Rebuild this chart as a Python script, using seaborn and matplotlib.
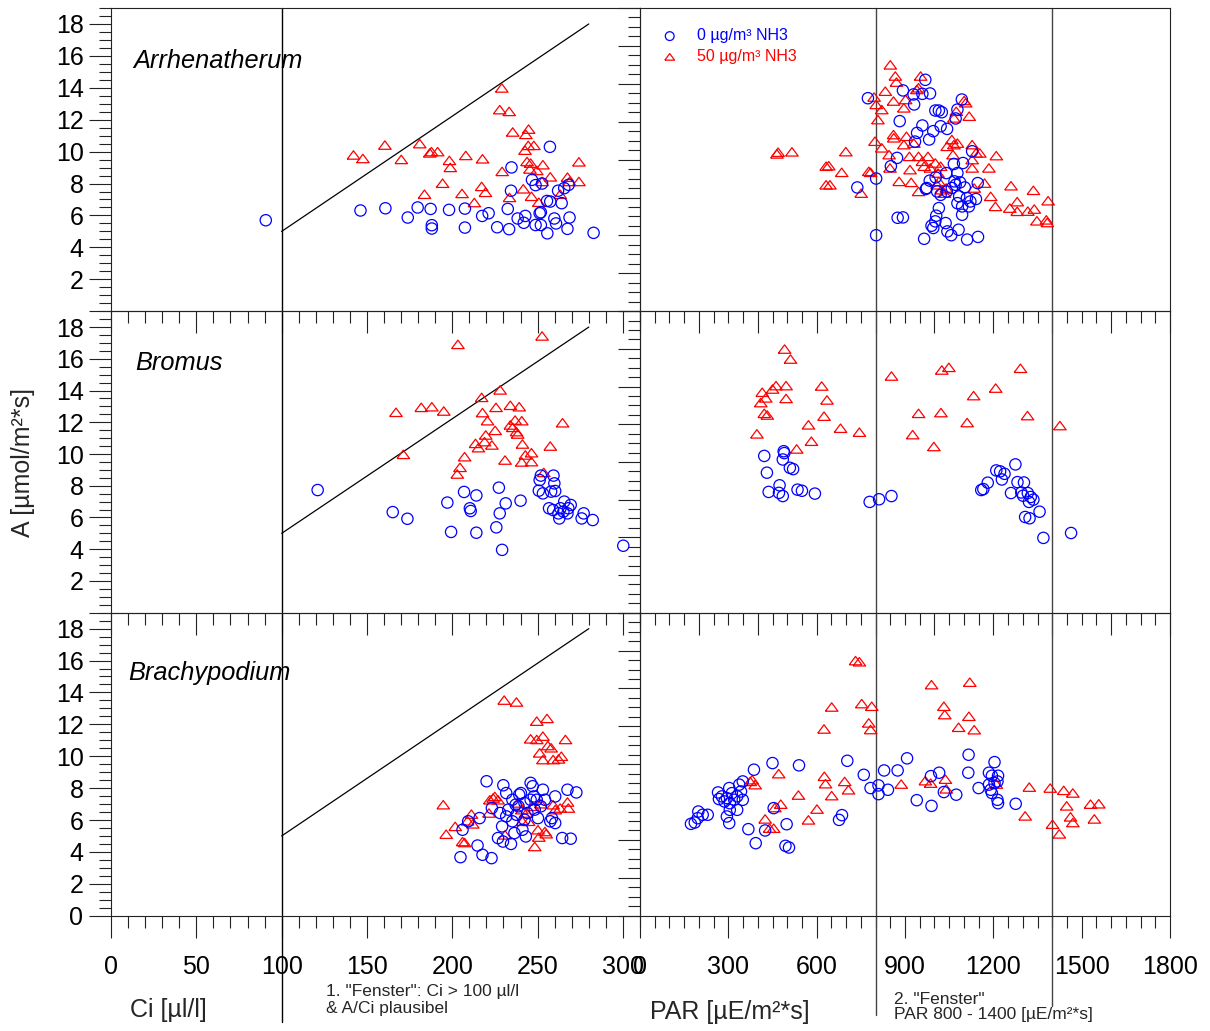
import matplotlib
matplotlib.use("Agg")
import matplotlib.pyplot as plt
from matplotlib.ticker import MultipleLocator, FuncFormatter
from matplotlib.markers import MarkerStyle
import pandas as pd
import seaborn as sns

# ---------------------------------------------------------------- data
SPECIES = ["Arrhenatherum", "Bromus", "Brachypodium"]
SERIES_LABELS = ["0 µg/m³ NH3", "50 µg/m³ NH3"]

# A/Ci plausibility line and measuring windows
PLAUS_CI = [100, 280]
PLAUS_A = [5, 18]
CI_WINDOW = 100
PAR_WINDOW = [800, 1400]

# Arrhenatherum: A vs Ci
ARR_CI_0 = [90.7, 146.2, 160.8, 173.9, 179.7, 187.3, 188.0, 188.0, 198.1, 207.4, 207.4, 217.5, 221.3, 226.3,
            232.5, 233.3, 234.7, 234.4, 238.3, 241.9, 242.8, 246.7, 248.8, 248.8, 251.2, 252.6, 251.9, 255.7,
            257.2, 255.5, 257.4, 259.8, 260.8, 262.0, 264.1, 265.6, 268.2, 268.7, 267.5, 282.8, 251.9]
ARR_ACI_0 = [5.70, 6.31, 6.45, 5.87, 6.50, 6.41, 5.39, 5.18, 6.35, 6.43, 5.24, 5.97, 6.14, 5.26,
             6.41, 5.14, 9.01, 7.55, 5.81, 5.54, 5.97, 8.23, 7.90, 5.40, 6.14, 8.00, 5.40, 4.88,
             10.30, 6.91, 6.87, 5.81, 5.50, 7.55, 6.77, 7.71, 7.92, 5.87, 5.16, 4.91, 6.20]
ARR_CI_50 = [142.1, 147.6, 160.5, 170.1, 180.9, 183.7, 186.8, 187.8, 191.4, 194.3, 198.3, 198.8, 205.7, 207.9,
             212.9, 217.2, 217.7, 219.4, 227.8, 229.0, 229.2, 233.3, 233.5, 235.4, 241.6, 243.1, 242.6, 243.8,
             244.7, 244.5, 245.9, 245.5, 246.4, 247.8, 249.5, 250.7, 253.1, 252.6, 257.4, 263.2, 267.5, 268.7,
             274.2, 274.2]
ARR_ACI_50 = [9.79, 9.57, 10.41, 9.51, 10.50, 7.33, 9.92, 10.00, 10.00, 8.02, 9.45, 9.01, 7.38, 9.76,
              6.81, 7.82, 9.55, 7.45, 12.63, 13.99, 8.76, 12.52, 7.13, 11.23, 7.67, 11.08, 10.09, 9.38,
              11.41, 10.39, 9.28, 8.91, 7.20, 10.39, 8.82, 6.83, 9.18, 8.13, 8.42, 7.33, 8.40, 8.13,
              8.13, 9.36]

# Arrhenatherum: A vs PAR
ARR_PAR_0 = [774, 802, 802, 738, 873, 852, 882, 875, 893, 893, 931, 929, 959, 969, 985, 959, 941, 982, 934,
             1003, 1015, 1025, 1021, 1043, 996, 1072, 1093, 1078, 1128, 1097, 1066, 1078, 1040, 1004, 984,
             971, 1009, 1021, 1042, 1059, 1072, 1087, 1103, 1084, 1110, 1122, 1141, 1147, 1078, 1094, 1117,
             1015, 1006, 1003, 990, 996, 1038, 1044, 1057, 1082, 1094, 965, 1111, 1148, 974, 1068]
ARR_APAR_0 = [11.24, 7.00, 4.01, 6.53, 8.09, 7.65, 10.03, 4.93, 4.95, 11.65, 10.91, 11.44, 11.47, 12.21,
              11.49, 9.80, 9.41, 9.06, 8.95, 10.59, 10.59, 10.50, 9.76, 9.62, 9.50, 10.17, 11.17, 10.64,
              8.44, 7.82, 7.77, 7.29, 7.29, 7.06, 6.89, 6.45, 6.32, 6.14, 6.32, 6.50, 6.67, 6.80, 6.53,
              6.06, 5.97, 5.79, 5.92, 6.76, 5.70, 5.53, 5.53, 5.44, 5.04, 4.74, 4.51, 4.39, 4.65, 4.21,
              4.01, 4.30, 5.09, 3.82, 3.78, 3.92, 6.50, 6.85]
ARR_PAR_50 = [465, 469, 516, 632, 641, 632, 645, 685, 699, 751, 777, 783, 798, 795, 802, 808, 821, 833, 850,
              861, 867, 871, 821, 846, 849, 861, 862, 880, 896, 902, 905, 896, 915, 917, 921, 930, 940, 946,
              953, 946, 946, 959, 965, 978, 986, 1003, 1012, 1021, 1015, 1009, 1024, 1040, 1034, 1043, 1059,
              1066, 1078, 1063, 1066, 1074, 1101, 1106, 1118, 1128, 1141, 1154, 1128, 1135, 1170, 1185, 1191,
              1207, 1210, 1260, 1256, 1281, 1281, 1317, 1336, 1339, 1348, 1380, 1383, 1386, 1128]
ARR_APAR_50 = [8.30, 8.39, 8.41, 7.65, 7.68, 6.67, 6.67, 7.33, 8.42, 6.23, 7.38, 7.33, 8.97, 11.30, 10.91,
               10.11, 10.64, 11.61, 13.00, 11.09, 12.41, 12.09, 8.62, 8.26, 7.56, 9.32, 9.15, 6.85, 10.73,
               11.17, 9.23, 8.79, 8.17, 7.47, 6.80, 8.87, 11.70, 11.79, 12.41, 8.17, 6.32, 7.91, 7.65, 8.17,
               7.56, 7.82, 7.29, 7.65, 6.85, 6.67, 6.41, 6.50, 6.23, 8.70, 9.06, 8.79, 8.87, 8.26, 10.20,
               10.55, 11.12, 11.00, 10.29, 8.79, 8.35, 8.35, 7.56, 6.50, 6.76, 7.56, 6.06, 5.53, 8.21, 6.62,
               5.44, 5.78, 5.27, 5.28, 6.38, 5.39, 4.77, 4.82, 4.68, 5.83, 8.00]

# Bromus: A vs Ci
BRO_CI_0 = [121.1, 165.1, 173.7, 197.1, 199.3, 206.9, 210.3, 210.8, 214.1, 214.1, 225.8, 227.3, 227.8, 229.2,
            231.3, 240.0, 250.7, 251.2, 251.9, 253.1, 257.9, 259.3, 259.8, 256.7, 260.3, 259.1, 262.2, 263.4,
            265.1, 265.6, 267.5, 269.4, 268.0, 277.0, 275.8, 282.3, 300.2, 262.7]
BRO_ACI_0 = [7.73, 6.34, 5.92, 6.94, 5.09, 7.61, 6.58, 6.41, 7.39, 5.04, 5.38, 7.88, 6.26, 3.96,
             6.89, 7.06, 7.69, 8.36, 8.64, 7.52, 7.63, 8.64, 8.15, 6.58, 7.67, 6.47, 6.26, 6.58,
             6.37, 7.00, 6.26, 6.79, 6.58, 6.26, 5.94, 5.84, 4.22, 5.94]
BRO_CI_50 = [167.0, 171.3, 181.8, 188.0, 195.0, 203.3, 202.9, 204.5, 207.2, 213.6, 215.3, 217.2, 217.7, 218.9,
             219.6, 220.6, 223.2, 225.1, 225.6, 228.0, 230.9, 234.0, 234.0, 235.4, 237.6, 238.3, 236.8, 239.2,
             240.7, 241.1, 240.7, 242.8, 246.4, 246.4, 252.6, 253.6, 257.4, 264.6]
BRO_ACI_50 = [12.63, 9.98, 12.94, 12.98, 12.71, 16.91, 8.74, 9.16, 9.83, 10.67, 10.40, 13.57, 12.61, 10.78,
              11.20, 12.10, 10.57, 11.49, 12.94, 14.04, 9.62, 13.07, 11.83, 11.68, 11.41, 11.26, 12.14, 12.98,
              12.10, 10.63, 9.50, 9.94, 10.08, 9.52, 17.44, 8.84, 10.50, 11.97]

# Bromus: A vs PAR
BRO_PAR_0 = [422, 431, 437, 472, 474, 485, 488, 490, 485, 509, 520, 535, 550, 594, 780, 812, 854, 1159, 1166,
             1181, 1210, 1223, 1238, 1229, 1275, 1282, 1304, 1260, 1295, 1317, 1301, 1327, 1336, 1321, 1357,
             1308, 1323, 1370, 1464]
BRO_APAR_0 = [8.32, 7.43, 6.41, 6.36, 6.76, 6.19, 8.57, 8.47, 8.13, 7.69, 7.62, 6.53, 6.47, 6.32, 5.88,
              6.02, 6.19, 6.51, 6.56, 6.90, 7.55, 7.50, 7.37, 7.07, 7.87, 6.93, 6.91, 6.35, 6.38, 6.35,
              6.21, 6.14, 6.00, 5.88, 5.36, 5.08, 5.01, 3.97, 4.23]
BRO_PAR_50 = [491, 511, 462, 496, 450, 415, 427, 410, 496, 617, 635, 422, 432, 625, 572, 397, 582, 532, 681,
              745, 854, 926, 946, 998, 1022, 1025, 1049, 1111, 1133, 1208, 1292, 1316, 1426]
BRO_APAR_50 = [13.99, 13.46, 12.05, 12.05, 11.87, 11.70, 11.40, 11.15, 11.37, 12.03, 11.29, 10.58, 10.49,
               10.43, 9.97, 9.49, 9.10, 8.69, 9.79, 9.58, 12.56, 9.45, 10.58, 8.82, 10.62, 12.88, 13.02,
               10.09, 11.52, 11.92, 12.97, 10.46, 9.93]

# Brachypodium: A vs Ci
BRA_CI_0 = [204.8, 217.7, 223.0, 214.8, 206.0, 209.3, 216.0, 220.1, 229.9, 231.6, 226.8, 229.7, 234.4, 229.2,
            231.6, 232.8, 235.2, 236.4, 237.6, 238.8, 239.2, 240.2, 241.1, 242.3, 243.1, 244.0, 245.9, 247.1,
            247.8, 248.3, 249.5, 250.2, 251.9, 254.3, 257.4, 258.4, 260.3, 260.3, 264.4, 269.4, 267.5, 272.7,
            223.2, 228.0, 245.9, 242.3, 235.2, 253.1, 237.1]
BRA_ACI_0 = [3.67, 3.82, 3.61, 4.40, 5.39, 5.92, 6.12, 8.43, 8.18, 7.69, 4.87, 4.65, 4.50, 5.60,
             6.23, 6.65, 5.92, 5.18, 6.33, 6.86, 7.59, 7.69, 5.39, 6.02, 4.97, 6.44, 8.33, 8.12,
             7.48, 6.65, 7.27, 6.12, 6.86, 7.27, 5.92, 6.12, 7.48, 5.81, 4.87, 4.83, 7.90, 7.73,
             6.75, 6.44, 7.27, 7.07, 7.27, 7.90, 6.96]
BRA_CI_50 = [194.7, 196.4, 201.7, 206.0, 207.2, 208.9, 211.2, 212.0, 221.5, 222.0, 223.9, 224.9, 226.8, 230.4,
             230.9, 237.6, 238.3, 240.7, 243.5, 244.7, 245.9, 247.1, 248.3, 249.5, 249.5, 250.2, 250.7, 251.2,
             251.9, 253.1, 253.1, 254.3, 255.0, 255.5, 256.0, 257.9, 259.1, 259.1, 260.3, 262.2, 263.2, 263.9,
             266.3, 267.5, 268.0, 241.1]
BRA_ACI_50 = [6.96, 5.11, 5.60, 4.65, 4.59, 5.95, 6.37, 5.76, 6.44, 7.27, 7.38, 7.48, 7.27, 13.52,
              5.07, 13.40, 7.07, 6.65, 6.44, 5.92, 11.09, 6.86, 4.34, 12.20, 11.05, 5.39, 4.93, 10.21,
              7.02, 11.26, 9.79, 5.28, 5.14, 12.37, 10.67, 10.53, 9.79, 6.96, 6.65, 9.83, 6.75, 10.00,
              11.05, 7.13, 6.75, 5.92]

# Brachypodium: A vs PAR
BRA_PAR_0 = [173, 186, 196, 198, 213, 230, 265, 268, 278, 287, 295, 303, 305, 312, 320, 330, 337, 343, 349,
             295, 303, 305, 330, 349, 387, 368, 393, 425, 450, 454, 498, 494, 506, 540, 676, 686, 704, 760,
             783, 810, 810, 829, 842, 875, 907, 940, 988, 990, 1016, 1032, 1074, 1116, 1115, 1150, 1185,
             1204, 1195, 1216, 1185, 1204, 1191, 1195, 1214, 1216, 1214, 1276]
BRA_APAR_0 = [4.85, 4.92, 5.15, 5.50, 5.33, 5.33, 6.51, 6.16, 6.30, 6.03, 6.21, 6.74, 5.94, 6.47, 6.12,
              6.30, 6.92, 6.56, 6.12, 5.24, 4.89, 5.59, 5.59, 7.09, 7.71, 4.57, 3.83, 4.50, 8.06, 5.68,
              4.83, 3.69, 3.60, 7.94, 5.06, 5.31, 8.18, 7.44, 6.74, 6.88, 6.42, 7.67, 6.65, 7.67, 8.31,
              6.10, 7.37, 5.80, 7.55, 6.53, 6.39, 8.50, 7.55, 6.74, 7.55, 8.11, 7.39, 7.39, 6.92, 7.00,
              6.65, 6.48, 6.12, 5.94, 7.09, 5.91]
BRA_PAR_50 = [381, 391, 374, 425, 440, 454, 458, 478, 471, 538, 572, 601, 626, 630, 651, 625, 651, 695, 708,
              732, 745, 753, 777, 783, 787, 887, 969, 987, 990, 1032, 1035, 1037, 1040, 1082, 1117, 1120,
              1135, 1210, 1308, 1322, 1393, 1401, 1424, 1439, 1449, 1462, 1470, 1470, 1530, 1558, 1543]
BRA_APAR_50 = [7.18, 6.92, 7.09, 5.11, 4.62, 4.62, 5.71, 5.89, 7.50, 6.37, 5.06, 5.63, 7.36, 6.97, 6.34,
               9.86, 11.02, 7.09, 6.65, 13.47, 13.41, 11.20, 10.18, 9.83, 11.06, 6.95, 7.13, 7.00, 12.20,
               11.06, 10.62, 7.21, 6.70, 9.95, 10.53, 12.33, 9.82, 6.95, 5.27, 6.79, 6.74, 4.83, 4.32,
               6.62, 5.80, 5.22, 6.48, 4.92, 5.89, 5.91, 5.11]

CI_DATA = [(ARR_CI_0, ARR_ACI_0, ARR_CI_50, ARR_ACI_50),
           (BRO_CI_0, BRO_ACI_0, BRO_CI_50, BRO_ACI_50),
           (BRA_CI_0, BRA_ACI_0, BRA_CI_50, BRA_ACI_50)]
PAR_DATA = [(ARR_PAR_0, ARR_APAR_0, ARR_PAR_50, ARR_APAR_50),
            (BRO_PAR_0, BRO_APAR_0, BRO_PAR_50, BRO_APAR_50),
            (BRA_PAR_0, BRA_APAR_0, BRA_PAR_50, BRA_APAR_50)]

# ---------------------------------------------------------------- style
sns.set_theme(style="white")
plt.rcParams["font.family"] = ["Liberation Sans", "DejaVu Sans"]
plt.rcParams["axes.linewidth"] = 0.8

BLUE = "#0000ff"
RED = "#ff0000"
INK = "#222222"
TRIANGLE = MarkerStyle([(-1, -0.67), (1, -0.67), (0, 0.67), (-1, -0.67)])

W, H = 1210, 1031
fig = plt.figure(figsize=(W / 100, H / 100), dpi=100)
fig.patch.set_facecolor("white")


def frac(x, y):
    return x / W, 1 - y / H


ROWS = [(8, 311.2), (311.2, 612.7), (612.7, 915.7)]
LEFT_X = (111, 640)
RIGHT_X = (640, 1170)


def make_axes(xspan, yspan):
    x0, x1 = xspan
    y0, y1 = yspan
    ax = fig.add_axes([x0 / W, 1 - y1 / H, (x1 - x0) / W, (y1 - y0) / H])
    ax.patch.set_visible(False)
    for s in ax.spines.values():
        s.set_color(INK)
        s.set_linewidth(0.8)
    ax.tick_params(which="major", direction="out", length=15.8, width=0.8, color=INK,
                   labelsize=18, labelcolor="black")
    ax.tick_params(which="minor", direction="out", length=8.4, width=0.8, color=INK)
    ax.tick_params(axis="x", which="both", top=False, bottom=True, pad=12.5)
    ax.tick_params(axis="y", which="both", left=True, right=False, pad=4)
    return ax


def draw_points(ax, x, y, circle, label=None):
    df = pd.DataFrame({"x": x, "y": y})
    if circle:
        sns.scatterplot(data=df, x="x", y="y", ax=ax, marker="o", s=66, facecolor="none",
                        edgecolor=BLUE, linewidth=0.9, zorder=3, label=label)
    else:
        sns.scatterplot(data=df, x="x", y="y", ax=ax, marker=TRIANGLE, s=82, facecolor="none",
                        edgecolor=RED, linewidth=0.9, zorder=3, label=label)
    ax.set_xlabel("")
    ax.set_ylabel("")


hide_zero = FuncFormatter(lambda v, p: "" if abs(v) < 1e-9 else f"{v:g}")
show_all = FuncFormatter(lambda v, p: f"{v:g}")

for i, row in enumerate(ROWS):
    last = i == len(ROWS) - 1

    # ---- A vs Ci
    axl = make_axes(LEFT_X, row)
    ci0, a0, ci50, a50 = CI_DATA[i]
    draw_points(axl, ci50, a50, circle=False)
    draw_points(axl, ci0, a0, circle=True)
    sns.lineplot(x=PLAUS_CI, y=PLAUS_A, ax=axl, color="black", linewidth=0.9, zorder=2)
    ext = -(1022 - 915.7) / (row[1] - row[0]) if last else 0
    axl.axvline(CI_WINDOW, ymin=ext, ymax=1, color="black", linewidth=1.0, clip_on=False, zorder=1)
    axl.set_xlim(0, 310)
    axl.set_ylim(0, 19)
    axl.xaxis.set_major_locator(MultipleLocator(50))
    axl.xaxis.set_minor_locator(MultipleLocator(10))
    axl.yaxis.set_major_locator(MultipleLocator(2))
    axl.yaxis.set_minor_locator(MultipleLocator(0.5))
    axl.yaxis.set_major_formatter(show_all if last else hide_zero)
    if last:
        axl.xaxis.set_major_formatter(show_all)
    else:
        axl.tick_params(axis="x", labelbottom=False)
    axl.set_xlabel("")
    axl.set_ylabel("")

    # ---- A vs PAR
    axr = make_axes(RIGHT_X, row)
    p0, b0, p50, b50 = PAR_DATA[i]
    draw_points(axr, p50, b50, circle=False, label=SERIES_LABELS[1] if i == 0 else None)
    draw_points(axr, p0, b0, circle=True, label=SERIES_LABELS[0] if i == 0 else None)
    for par, bottom in zip(PAR_WINDOW, [1015, 1006]):
        ext = -(bottom - 915.7) / (row[1] - row[0]) if last else 0
        axr.axvline(par, ymin=ext, ymax=1, color="#444444", linewidth=1.0, clip_on=False, zorder=1)
    axr.set_xlim(0, 1800)
    axr.set_ylim(0, 16)
    axr.xaxis.set_major_locator(MultipleLocator(300 if last else 200))
    axr.xaxis.set_minor_locator(MultipleLocator(50))
    axr.yaxis.set_major_locator(MultipleLocator(2))
    axr.yaxis.set_minor_locator(MultipleLocator(0.5))
    axr.tick_params(axis="y", labelleft=False)
    if last:
        axr.xaxis.set_major_formatter(show_all)
    else:
        axr.tick_params(axis="x", labelbottom=False)
    axr.set_xlabel("")
    axr.set_ylabel("")

    if i == 0:
        handles, labels = axr.get_legend_handles_labels()
        order = [labels.index(SERIES_LABELS[0]), labels.index(SERIES_LABELS[1])]
        axr.legend([handles[k] for k in order], [labels[k] for k in order],
                   loc="upper left", bbox_to_anchor=(0.041, 0.933), borderaxespad=0, borderpad=0,
                   frameon=False, fontsize=11.5, markerscale=0.78, handlelength=1.0,
                   handletextpad=1.2, labelspacing=0.36, scatterpoints=1,
                   labelcolor=[BLUE, RED])

    # species name
    name_pos = [(133, 61), (135, 363), (128.6, 673)][i]
    fig.text(*frac(*name_pos), SPECIES[i], fontsize=18.3, style="italic",
             ha="left", va="center", color="black")

# axis titles and window notes
fig.text(*frac(23, 463), "A [µmol/m²*s]", fontsize=18, rotation=90, ha="center", va="center")
fig.text(*frac(168, 1010), "Ci [µl/l]", fontsize=18, ha="center", va="center")
fig.text(*frac(730, 1012), "PAR [µE/m²*s]", fontsize=18, ha="center", va="center")
fig.text(*frac(326.5, 991.7), '1. "Fenster": Ci > 100 µl/l', fontsize=12.5, ha="left", va="center")
fig.text(*frac(326.5, 1008), "& A/Ci plausibel", fontsize=12.5, ha="left", va="center")
fig.text(*frac(894, 999), '2. "Fenster"', fontsize=12.5, ha="left", va="center")
fig.text(*frac(894, 1015), "PAR 800 - 1400 [µE/m²*s]", fontsize=12.5, ha="left", va="center")

fig.savefig("out.png", dpi=100, facecolor="white")
